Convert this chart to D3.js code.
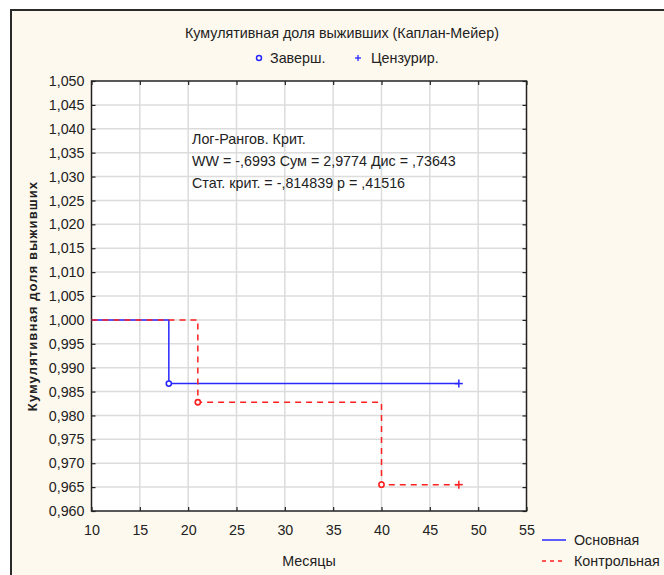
<!DOCTYPE html>
<html><head><meta charset="utf-8">
<script src="https://cdn.jsdelivr.net/npm/d3@7"></script>
<style>html,body{margin:0;padding:0;background:#fff;}svg{display:block;}</style>
</head><body>
<script>
// Data
const xTicks = [10,15,20,25,30,35,40,45,50,55];
const yTicks = [0.960,0.965,0.970,0.975,0.980,0.985,0.990,0.995,1.000,1.005,1.010,1.015,1.020,1.025,1.030,1.035,1.040,1.045,1.050];
const seriesNames = ["Основная","Контрольная"];
// step points: [month, survival]
const mainSteps = [[10,1.0],[18,1.0],[18,0.98667],[48,0.98667]];
const ctrlSteps = [[10,1.0],[21,1.0],[21,0.98276],[40,0.98276],[40,0.96552],[48,0.96552]];
const mainEvents = [[18,0.98667]];
const ctrlEvents = [[21,0.98276],[40,0.96552]];
const mainCensored = [[48,0.98667]];
const ctrlCensored = [[48,0.96552]];
const statsLines = ["Лог-Рангов. Крит.","WW = -,6993 Сум = 2,9774 Дис = ,73643","Стат. крит. = -,814839 p = ,41516"];

const W=664,H=575;
const svg=d3.select("body").append("svg").attr("width",W).attr("height",H);
const font="Liberation Sans, Arial, sans-serif";
const txt="#222";
const fs="14.3px";
svg.append("rect").attr("x",0).attr("y",0).attr("width",W).attr("height",H).attr("fill","#fff");
svg.append("rect").attr("x",11).attr("y",10).attr("width",W+20).attr("height",H+20)
  .attr("fill","#fef9ee").attr("stroke","#2a2a2a").attr("stroke-width",2);

const L=91.5,R=526.5,T=81,B=511;
const x=d3.scaleLinear().domain([10,55]).range([L,R]);
const y=d3.scaleLinear().domain([0.960,1.050]).range([B,T]);
const fmt=v=>d3.format(".3f")(v).replace(".",",");

svg.append("rect").attr("x",L).attr("y",T).attr("width",R-L).attr("height",B-T).attr("fill","#fff");
// grid
const g=svg.append("g");
g.selectAll("line.gx").data(xTicks.slice(1,-1)).join("line")
  .attr("x1",d=>x(d)).attr("x2",d=>x(d)).attr("y1",T).attr("y2",B)
  .attr("stroke","#dcdcdc").attr("stroke-width",1.5);
g.selectAll("line.gy").data(yTicks.slice(1,-1)).join("line")
  .attr("y1",d=>y(d)).attr("y2",d=>y(d)).attr("x1",L).attr("x2",R)
  .attr("stroke","#dcdcdc").attr("stroke-width",1.5);

// axes
const axL=d3.axisLeft(y).tickValues(yTicks).tickFormat(fmt).tickSize(-4).tickPadding(7);
const axB=d3.axisBottom(x).tickValues(xTicks).tickFormat(d3.format("d")).tickSize(-4).tickPadding(14);
const axR=d3.axisRight(y).tickValues(yTicks).tickFormat("").tickSize(-4);
const axT=d3.axisTop(x).tickValues(xTicks).tickFormat("").tickSize(-4);
[[axL,`translate(${L},0)`],[axB,`translate(0,${B})`],[axR,`translate(${R},0)`],[axT,`translate(0,${T})`]].forEach(([a,t])=>{
  const ga=svg.append("g").attr("transform",t).call(a);
  ga.select(".domain").remove();
  ga.selectAll("line").attr("stroke","#222").attr("stroke-width",1.2);
  ga.selectAll("text").attr("fill",txt).style("font-family",font).style("font-size",fs);
});
svg.append("rect").attr("x",L).attr("y",T).attr("width",R-L).attr("height",B-T)
  .attr("fill","none").attr("stroke","#222").attr("stroke-width",1.5);

// lines
const line=d3.line().x(d=>x(d[0])).y(d=>y(d[1]));
svg.append("path").datum(mainSteps).attr("d",line).attr("fill","none").attr("stroke","#2828ff").attr("stroke-width",1.5);
svg.append("path").datum(ctrlSteps).attr("d",line).attr("fill","none").attr("stroke","#ff2020").attr("stroke-width",1.5).attr("stroke-dasharray","6,5");

function events(data,col){
  svg.append("g").selectAll("circle").data(data).join("circle")
   .attr("cx",d=>x(d[0])).attr("cy",d=>y(d[1])).attr("r",2.6)
   .attr("fill","#fff").attr("stroke",col).attr("stroke-width",1.6);
}
function cens(data,col){
  const gg=svg.append("g").attr("stroke",col).attr("stroke-width",1.5);
  gg.selectAll("line.h").data(data).join("line").attr("x1",d=>x(d[0])-4).attr("x2",d=>x(d[0])+4).attr("y1",d=>y(d[1])).attr("y2",d=>y(d[1]));
  gg.selectAll("line.v").data(data).join("line").attr("x1",d=>x(d[0])).attr("x2",d=>x(d[0])).attr("y1",d=>y(d[1])-4).attr("y2",d=>y(d[1])+4);
}
events(mainEvents,"#2828ff");events(ctrlEvents,"#ff2020");
cens(mainCensored,"#2828ff");cens(ctrlCensored,"#ff2020");

// stats text
svg.append("g").selectAll("text").data(statsLines).join("text")
  .attr("x",192).attr("y",(d,i)=>144+i*22).text(d=>d)
  .attr("fill",txt).style("font-family",font).style("font-size",fs);

// title
svg.append("text").attr("x",342).attr("y",38).attr("text-anchor","middle").text("Кумулятивная доля выживших (Каплан-Мейер)")
  .attr("fill",txt).style("font-family",font).style("font-size",fs);
// top legend
svg.append("circle").attr("cx",259).attr("cy",58).attr("r",2.5).attr("fill","none").attr("stroke","#2828ff").attr("stroke-width",1.5);
svg.append("text").attr("x",270).attr("y",63).text("Заверш.").attr("fill",txt).style("font-family",font).style("font-size",fs);
svg.append("line").attr("x1",355).attr("x2",361).attr("y1",58).attr("y2",58).attr("stroke","#2828ff").attr("stroke-width",1.3);
svg.append("line").attr("x1",358).attr("x2",358).attr("y1",55).attr("y2",61).attr("stroke","#2828ff").attr("stroke-width",1.3);
svg.append("text").attr("x",371).attr("y",63).text("Цензурир.").attr("fill",txt).style("font-family",font).style("font-size",fs);

// axis titles
svg.append("text").attr("x",309).attr("y",566).attr("text-anchor","middle").text("Месяцы")
  .attr("fill",txt).style("font-family",font).style("font-size",fs);
svg.append("text").attr("transform","translate(37,296) rotate(-90)").attr("text-anchor","middle")
  .text("Кумулятивная доля выживших").attr("fill",txt).style("font-family",font).style("font-size","13px").style("font-weight","bold").style("letter-spacing","1.1px");

// bottom legend
const cols=["#2828ff","#ff2020"],dashes=[null,"4,4"];
seriesNames.forEach((n,i)=>{
  const yy=540+i*21;
  svg.append("line").attr("x1",542).attr("x2",566).attr("y1",yy).attr("y2",yy).attr("stroke",cols[i]).attr("stroke-width",1.5).attr("stroke-dasharray",dashes[i]);
  svg.append("text").attr("x",574).attr("y",yy+5).text(n).attr("fill",txt).style("font-family",font).style("font-size",fs);
});
</script>
</body></html>
